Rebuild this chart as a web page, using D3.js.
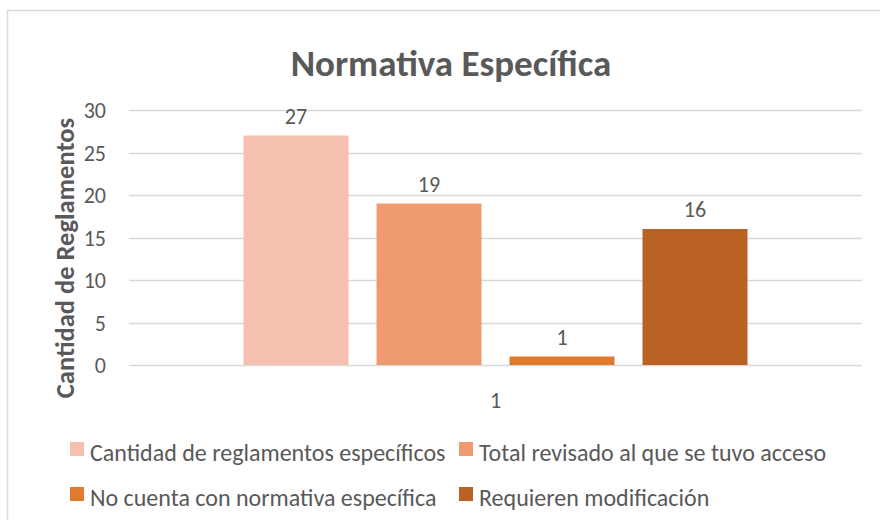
<!DOCTYPE html>
<html>
<head>
<meta charset="utf-8">
<script src="https://cdn.jsdelivr.net/npm/d3@7"></script>
<style>
  body { margin: 0; background: #fff; }
  svg text { font-family: Carlito, Lato, "Open Sans", sans-serif; fill: #595959; }
</style>
</head>
<body>
<svg id="chart" width="880" height="520"></svg>
<script>
var categories = ["1"]
var seriesNames = [
    "Cantidad de reglamentos específicos",
    "Total revisado al que se tuvo acceso",
    "No cuenta con normativa específica",
    "Requieren modificación"
]
var seriesValues = [27, 19, 1, 16]
var seriesColors = ["#F5C1AE", "#F09A72", "#E07A2F", "#BA6124"]
var yTicks = [0, 5, 10, 15, 20, 25, 30]

var svg = d3.select("#chart")
var margin = { left: 129, right: 18, top: 110, bottom: 155 }
var width = 880, height = 520

// chart frame
svg.append("rect")
    .attr("x", 7.5).attr("y", 10.5)
    .attr("width", 880).attr("height", 520)
    .attr("fill", "none")
    .attr("stroke", "#d9d9d9")
    .attr("stroke-width", 1.5)

var x0 = d3.scaleBand()
    .domain(categories)
    .range([margin.left, width - margin.right])

var x1 = d3.scaleBand()
    .domain(seriesNames)
    .range([0, x0.bandwidth()])
    .paddingInner(0.2105)
    .paddingOuter(0.861)

var y = d3.scaleLinear()
    .domain([0, 30])
    .range([height - margin.bottom, margin.top])

// gridlines
svg.append("g")
    .selectAll("line")
    .data(yTicks)
    .enter()
    .append("line")
    .attr("x1", margin.left)
    .attr("x2", width - margin.right)
    .attr("y1", function(d) { return Math.round(y(d)) + 0.5 })
    .attr("y2", function(d) { return Math.round(y(d)) + 0.5 })
    .attr("stroke", "#d9d9d9")
    .attr("stroke-width", 1.5)

var yAxis = svg.append("g")
    .attr("transform", "translate(" + 106 + ",0)")
    .call(d3.axisLeft(y).tickValues(yTicks).tickSize(0).tickPadding(0))
yAxis.select(".domain").remove()
yAxis.selectAll("text")
    .style("font-size", "22px")
    .attr("dy", "0.36em")

// bars
var group = svg.append("g")
    .selectAll("g")
    .data(categories)
    .enter()
    .append("g")
    .attr("transform", function(d) { return "translate(" + x0(d) + ",0)" })

group.selectAll("rect")
    .data(seriesNames.map(function(s, i) { return { name: s, value: seriesValues[i], color: seriesColors[i] } }))
    .enter()
    .append("rect")
    .attr("x", function(d) { return x1(d.name) })
    .attr("width", x1.bandwidth())
    .attr("y", function(d) { return y(d.value) })
    .attr("height", function(d) { return y(0) - y(d.value) })
    .attr("fill", function(d) { return d.color })

group.selectAll("text.label")
    .data(seriesNames.map(function(s, i) { return { name: s, value: seriesValues[i] } }))
    .enter()
    .append("text")
    .attr("class", "label")
    .attr("x", function(d) { return x1(d.name) + x1.bandwidth() / 2 })
    .attr("y", function(d) { return y(d.value) - 12 })
    .attr("text-anchor", "middle")
    .style("font-size", "22px")
    .text(function(d) { return d.value })

// category axis label
svg.append("g")
    .attr("transform", "translate(0," + (y(0) + 43) + ")")
    .selectAll("text")
    .data(categories)
    .enter()
    .append("text")
    .attr("x", function(d) { return x0(d) + x0.bandwidth() / 2 })
    .attr("text-anchor", "middle")
    .style("font-size", "22px")
    .text(function(d) { return d })

// title
svg.append("text")
    .attr("x", 451)
    .attr("y", 76)
    .attr("text-anchor", "middle")
    .style("font-size", "37px")
    .style("font-weight", "bold")
    .text("Normativa Específica")

// y axis title
svg.append("text")
    .attr("transform", "translate(74," + 258 + ") rotate(-90)")
    .attr("text-anchor", "middle")
    .style("font-size", "26.5px")
    .style("font-weight", "bold")
    .text("Cantidad de Reglamentos")

// legend
var legendPos = [[70, 461], [459, 461], [70, 506], [459, 506]]
var legend = svg.append("g")
    .selectAll("g")
    .data(seriesNames)
    .enter()
    .append("g")
    .attr("transform", function(d, i) { return "translate(" + legendPos[i][0] + "," + legendPos[i][1] + ")" })
legend.append("rect")
    .attr("x", 0).attr("y", -19)
    .attr("width", 14).attr("height", 14)
    .attr("fill", function(d, i) { return seriesColors[i] })
legend.append("text")
    .attr("x", 20)
    .attr("y", 0)
    .style("font-size", "24px")
    .text(function(d) { return d })
</script>
</body>
</html>
